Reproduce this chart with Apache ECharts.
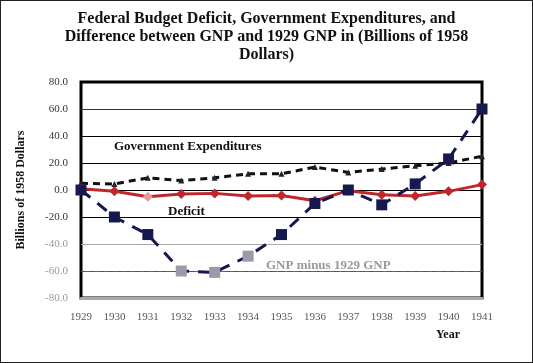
<!DOCTYPE html>
<html><head><meta charset="utf-8">
<script src="https://cdn.jsdelivr.net/npm/echarts@6/dist/echarts.min.js"></script>
<style>html,body{margin:0;padding:0;background:#fff}#c{width:531px;height:361px;border:1px solid #222}</style>
</head><body><div id="c"></div>
<script>
const years = ['1929','1930','1931','1932','1933','1934','1935','1936','1937','1938','1939','1940','1941'];
const govExpenditures = [5, 4.5, 9, 7, 9, 12, 12, 17, 13, 15.5, 18, 20, 25];
const deficit = [1, -1, -5, -3, -2.5, -4.5, -4, -8, -0.5, -3.5, -4.5, -1, 4];
const gnpMinus1929 = [0, -20, -33, -60, -61, -49, -33, -10, 0, -11, 4.5, 23, 60];
const yTicks = [-80, -60, -40, -20, 0, 20, 40, 60, 80];

const chart = echarts.init(document.getElementById('c'));
const serif = 'Liberation Serif';
const gnpData = gnpMinus1929.map(v => ({value: v, itemStyle: {color: v < -40 ? '#9a9aa8' : '#16194f'}}));
const defData = deficit.map((v, i) => ({value: v, itemStyle: {color: (i === 2) ? '#e59a9a' : '#c0272d'}}));
chart.setOption({
  animation: false,
  title: {
    text: 'Federal Budget Deficit, Government Expenditures, and\nDifference between GNP and 1929 GNP in (Billions of 1958\nDollars)',
    left: 'center', top: 4,
    textStyle: {fontFamily: serif, fontWeight: 'bold', fontSize: 16, lineHeight: 18, color: '#111'}
  },
  grid: {left: 80, right: 50, top: 81, bottom: 64, show: true, borderColor: '#000', borderWidth: 3, backgroundColor: 'transparent'},
  xAxis: {
    type: 'category', data: years, boundaryGap: false,
    axisLine: {onZero: false, lineStyle: {color: '#aaa', width: 3}},
    axisTick: {show: false},
    axisLabel: {fontFamily: serif, fontSize: 11, color: '#555', margin: 14}
  },
  yAxis: {
    type: 'value', min: yTicks[0], max: yTicks[yTicks.length - 1], interval: 20,
    axisLine: {show: false}, axisTick: {show: false},
    axisLabel: {fontFamily: serif, fontSize: 11, margin: 13,
      formatter: v => v.toFixed(1),
      color: v => (v <= -40 ? '#999' : '#333')},
    splitLine: {lineStyle: {color: ['#999', '#666', '#aaa', '#000', '#000', '#000', '#000', '#333', '#000'], width: 1}},
    name: 'Billions of 1958 Dollars', nameLocation: 'middle', nameGap: 54, nameRotate: 90,
    nameTextStyle: {fontFamily: serif, fontWeight: 'bold', fontSize: 12, color: '#111'}
  },
  series: [
    {
      name: 'Government Expenditures', type: 'line', data: govExpenditures,
      symbol: 'triangle', symbolSize: 6,
      lineStyle: {color: '#111', width: 3, type: [7, 5]},
      itemStyle: {color: '#222'}, z: 3,
      markLine: {symbol: 'none', silent: true, label: {show: false},
        lineStyle: {color: '#555', width: 1, type: [5, 4]},
        data: [{yAxis: -60}]}
    },
    {
      name: 'Deficit', type: 'line', data: defData,
      symbol: 'diamond', symbolSize: 10,
      lineStyle: {color: '#c0272d', width: 3},
      itemStyle: {color: '#c0272d'}, z: 4
    },
    {
      name: 'GNP minus 1929 GNP', type: 'line', data: gnpData,
      symbol: 'rect', symbolSize: 11,
      lineStyle: {color: '#16194f', width: 3, type: [12, 9]},
      itemStyle: {color: '#16194f'},
      z: 5
    }
  ],
  graphic: [
    {type: 'text', left: 113, top: 139, style: {text: 'Government Expenditures', font: 'bold 13px "Liberation Serif"', fill: '#111'}},
    {type: 'text', left: 167, top: 204, style: {text: 'Deficit', font: 'bold 13px "Liberation Serif"', fill: '#111'}},
    {type: 'text', left: 265, top: 258, style: {text: 'GNP minus 1929 GNP', font: 'bold 13px "Liberation Serif"', fill: '#999'}},
    {type: 'text', left: 435, top: 328, style: {text: 'Year', font: 'bold 12px "Liberation Serif"', fill: '#111'}}
  ]
});
</script></body></html>
